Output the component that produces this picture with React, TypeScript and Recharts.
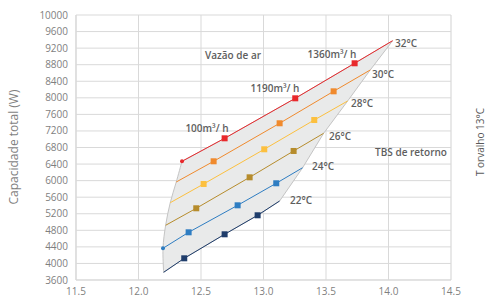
import { ScatterChart, Scatter, XAxis, YAxis, CartesianGrid } from "recharts"

const X_TICKS = [11.5, 12, 12.5, 13, 13.5, 14, 14.5]
const Y_TICKS = [3600, 4000, 4400, 4800, 5200, 5600, 6000, 6400, 6800, 7200, 7600, 8000, 8400, 8800, 9200, 9600, 10000]
// minor vertical grid every 0.1
const MINOR_TICKS = Array.from({ length: 31 }, (_, i) => Math.round((11.5 + i * 0.1) * 10) / 10)

const t22 = [
  { x: 12.201, y: 3786 }, { x: 12.366, y: 4124 }, { x: 12.689, y: 4704 }, { x: 12.953, y: 5163 }, { x: 13.129, y: 5508 },
]
const t24 = [
  { x: 12.196, y: 4366 }, { x: 12.401, y: 4752 }, { x: 12.793, y: 5404 }, { x: 13.102, y: 5936 }, { x: 13.313, y: 6312 },
]
const t26 = [
  { x: 12.217, y: 4921 }, { x: 12.462, y: 5332 }, { x: 12.889, y: 6080 }, { x: 13.241, y: 6716 }, { x: 13.481, y: 7143 },
]
const t28 = [
  { x: 12.254, y: 5467 }, { x: 12.521, y: 5919 }, { x: 13.006, y: 6757 }, { x: 13.406, y: 7464 }, { x: 13.673, y: 7923 },
]
const t30 = [
  { x: 12.302, y: 5967 }, { x: 12.601, y: 6467 }, { x: 13.129, y: 7385 }, { x: 13.561, y: 8157 }, { x: 13.854, y: 8672 },
]
const t32 = [
  { x: 12.348, y: 6467 }, { x: 12.689, y: 7022 }, { x: 13.254, y: 7988 }, { x: 13.729, y: 8834 }, { x: 14.033, y: 9379 },
]

const SERIES = [
  { name: "22°C", data: t22, color: "#1f3d6b", dot: false },
  { name: "24°C", data: t24, color: "#2e7dc2", dot: true },
  { name: "26°C", data: t26, color: "#b68c2c", dot: false },
  { name: "28°C", data: t28, color: "#fcc03f", dot: false },
  { name: "30°C", data: t30, color: "#f08a2d", dot: false },
  { name: "32°C", data: t32, color: "#e8292c", dot: true },
]

// envelope: left edge (red start -> navy start), navy line, right edge up, red line back
const lows = [t32, t30, t28, t26, t24, t22]
const envelope = [
  ...lows.map((s) => s[0]),
  ...t22.slice(1),
  ...[t24, t26, t28, t30, t32].map((s) => s[s.length - 1]),
  ...t32.slice(1, -1).reverse(),
]
const LEFT_EDGE_COUNT = lows.length

const LABELS = [
  { text: "Vazão de ar", x: 233, y: 55 },
  { text: "1360m³/ h", x: 332, y: 54 },
  { text: "1190m³/ h", x: 275, y: 88 },
  { text: "100m³/ h", x: 207, y: 128 },
  { text: "32°C", x: 406, y: 43 },
  { text: "30°C", x: 383, y: 74 },
  { text: "28°C", x: 362, y: 103 },
  { text: "26°C", x: 340, y: 136 },
  { text: "24°C", x: 323, y: 166 },
  { text: "22°C", x: 301, y: 200 },
  { text: "TBS de retorno", x: 411, y: 152 },
]

const FONT = "'Open Sans', 'Noto Sans', sans-serif"

const makeShape = (s: (typeof SERIES)[number]) => (props: any) => {
  const i = s.data.findIndex((d) => d.x === props.payload?.x)
  if (i >= 1 && i <= 3) {
    return <rect x={props.cx - 3} y={props.cy - 3} width={6} height={6} fill={s.color} />
  }
  if (i === 0 && s.dot) return <circle cx={props.cx} cy={props.cy} r={2} fill={s.color} />
  return <g />
}

// smooth (catmull-rom) through the left edge, straight elsewhere
const envelopeLine = (p: any) => {
  const pts = p.points || []
  if (!pts.length) return <g />
  const left = pts.slice(0, LEFT_EDGE_COUNT)
  let d = `M${left[0].x},${left[0].y}`
  for (let i = 0; i < left.length - 1; i++) {
    const p0 = left[Math.max(0, i - 1)]
    const p1 = left[i]
    const p2 = left[i + 1]
    const p3 = left[Math.min(left.length - 1, i + 2)]
    const c1x = p1.x + (p2.x - p0.x) / 6
    const c1y = p1.y + (p2.y - p0.y) / 6
    const c2x = p2.x - (p3.x - p1.x) / 6
    const c2y = p2.y - (p3.y - p1.y) / 6
    d += ` C${c1x},${c1y} ${c2x},${c2y} ${p2.x},${p2.y}`
  }
  pts.slice(LEFT_EDGE_COUNT).forEach((q: any) => { d += ` L${q.x},${q.y}` })
  d += " Z"
  return <path d={d} fill="#e9eaea" stroke="#c4c4c4" strokeWidth={1} />
}

export default function App() {
  return (
    <div style={{ position: "fixed", left: 0, top: 0, width: 487, height: 297, background: "#fff", fontFamily: FONT }}>
      <ScatterChart width={487} height={297} margin={{ top: 15, right: 36, bottom: 0, left: 0 }}>
        <XAxis xAxisId="minor" type="number" dataKey="x" domain={[11.5, 14.5]} ticks={MINOR_TICKS} hide />
        <CartesianGrid xAxisId="minor" horizontal={false} stroke="#efefef" />
        <CartesianGrid stroke="#d9d9d9" />
        <XAxis
          type="number" dataKey="x" domain={[11.5, 14.5]} ticks={X_TICKS} height={17}
          tickFormatter={(v: number) => v.toFixed(1)} tickLine={false} tickSize={6} tickMargin={2}
          axisLine={{ stroke: "#d9d9d9" }} tick={{ fontSize: 10, fill: "#7f7f7f", fontFamily: FONT }}
          allowDataOverflow
        />
        <YAxis
          type="number" dataKey="y" domain={[3600, 10000]} ticks={Y_TICKS} width={76}
          tickLine={false} tickSize={6} tickMargin={2} interval={0}
          axisLine={{ stroke: "#d9d9d9" }} tick={{ fontSize: 10, fill: "#7f7f7f", fontFamily: FONT }}
          allowDataOverflow
        />
        <Scatter data={envelope} line={envelopeLine} shape={() => <g />} isAnimationActive={false} />
        {SERIES.map((s) => (
          <Scatter
            key={s.name} name={s.name} data={s.data} fill={s.color}
            line={{ stroke: s.color, strokeWidth: 1 }} shape={makeShape(s)} isAnimationActive={false}
          />
        ))}
      </ScatterChart>
      {LABELS.map((l) => (
        <div key={l.text} style={{
          position: "absolute", left: l.x, top: l.y, transform: "translate(-50%, -50%)",
          fontSize: 10, fontWeight: 600, color: "#5e5e5e", whiteSpace: "nowrap", lineHeight: 1,
        }}>{l.text}</div>
      ))}
      <div style={{
        position: "absolute", left: 14, top: 147, transform: "translate(-50%, -50%) rotate(-90deg)",
        fontSize: 12, color: "#7f7f7f", whiteSpace: "nowrap", lineHeight: 1,
      }}>Capacidade total (W)</div>
      <div style={{
        position: "absolute", left: 480, top: 142, transform: "translate(-50%, -50%) rotate(-90deg)",
        fontSize: 10, color: "#595959", whiteSpace: "nowrap", lineHeight: 1,
      }}>T orvalho 13°C</div>
    </div>
  )
}
